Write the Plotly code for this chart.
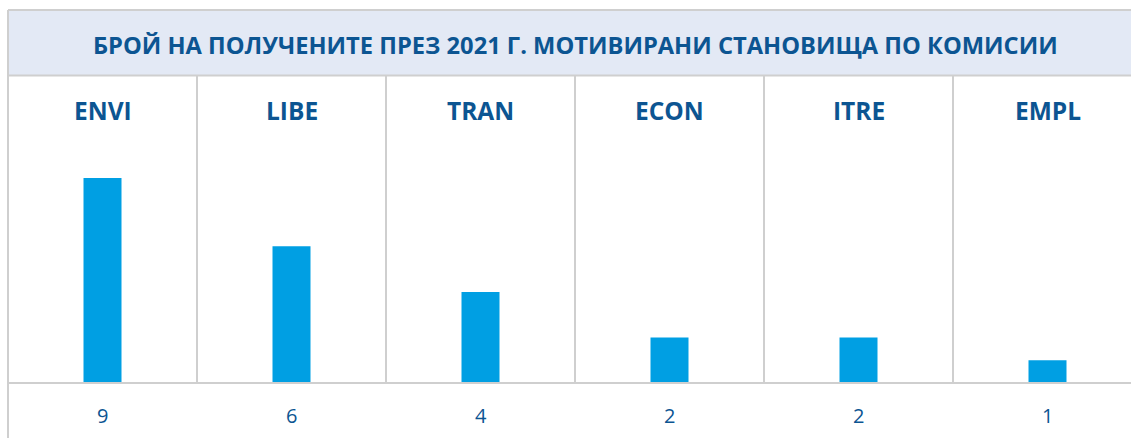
import plotly.graph_objects as go

# data
committees = ["ENVI", "LIBE", "TRAN", "ECON", "ITRE", "EMPL"]
opinions = [9, 6, 4, 2, 2, 1]
title_text = "БРОЙ НА ПОЛУЧЕНИТЕ ПРЕЗ 2021 Г. МОТИВИРАНИ СТАНОВИЩА ПО КОМИСИИ"

W, H = 1131, 438
LEFT = 8          # left border, px
COL_W = 189       # column width, px
BASE = 383        # baseline, px from top
PX_PER_UNIT = 22.78

BAR_COLOR = "#009fe3"
TEXT_COLOR = "#0c5592"
GRID = "#cfcfcf"
BAND = "#e3e9f5"

x_pos = list(range(len(committees)))
x_range = [-0.5 - LEFT / COL_W, (W - LEFT) / COL_W - 0.5]
y_range = [-(H - BASE) / PX_PER_UNIT, BASE / PX_PER_UNIT]


def py(px):
    # pixel from top -> paper y
    return 1 - px / H


fig = go.Figure(
    go.Bar(
        x=x_pos,
        y=opinions,
        width=38 / COL_W,
        marker=dict(color=BAR_COLOR, line=dict(width=0)),
        hoverinfo="skip",
    )
)

shapes = [
    # title band
    dict(type="rect", xref="x", yref="paper", x0=-0.5, x1=x_range[1] + 1,
         y0=py(75), y1=py(10), fillcolor=BAND, line=dict(width=0), layer="below"),
    dict(type="line", xref="x", yref="paper", x0=-0.5, x1=x_range[1] + 1, y0=py(10), y1=py(10),
         line=dict(color=GRID, width=2)),
    dict(type="line", xref="x", yref="paper", x0=-0.5, x1=x_range[1] + 1, y0=py(75.5), y1=py(75.5),
         line=dict(color=GRID, width=2)),
    # left border
    dict(type="line", xref="x", yref="paper", x0=-0.5, x1=-0.5, y0=0, y1=py(10),
         line=dict(color=GRID, width=2)),
    # baseline
    dict(type="line", xref="x", yref="y", x0=-0.5, x1=x_range[1] + 1, y0=0, y1=0,
         line=dict(color=GRID, width=2)),
]
for i in range(1, len(committees)):
    shapes.append(dict(type="line", xref="x", yref="paper", x0=i - 0.5, x1=i - 0.5,
                       y0=py(BASE), y1=py(75), line=dict(color=GRID, width=2)))

annotations = [
    dict(text=f"<b>{title_text}</b>", xref="x", yref="paper", x=2.5, y=py(45),
         showarrow=False, font=dict(family="Open Sans", size=23.7, color=TEXT_COLOR),
         xanchor="center", yanchor="middle"),
]
for x, name, val in zip(x_pos, committees, opinions):
    annotations.append(dict(text=f"<b>{name}</b>", xref="x", yref="paper", x=x, y=py(110),
                            showarrow=False, font=dict(family="Open Sans", size=24.5, color=TEXT_COLOR),
                            xanchor="center", yanchor="middle"))
    annotations.append(dict(text=str(val), xref="x", yref="paper", x=x, y=py(415),
                            showarrow=False, font=dict(family="Open Sans", size=20, color=TEXT_COLOR),
                            xanchor="center", yanchor="middle"))

fig.update_layout(
    width=W,
    height=H,
    margin=dict(l=0, r=0, t=0, b=0),
    paper_bgcolor="white",
    plot_bgcolor="white",
    showlegend=False,
    xaxis=dict(range=x_range, visible=False, fixedrange=True),
    yaxis=dict(range=y_range, visible=False, fixedrange=True),
    shapes=shapes,
    annotations=annotations,
)

fig.write_html(
    "out.html",
    config={"displayModeBar": False},
    post_script="document.body.style.margin='0'; document.body.style.overflow='hidden';",
)
